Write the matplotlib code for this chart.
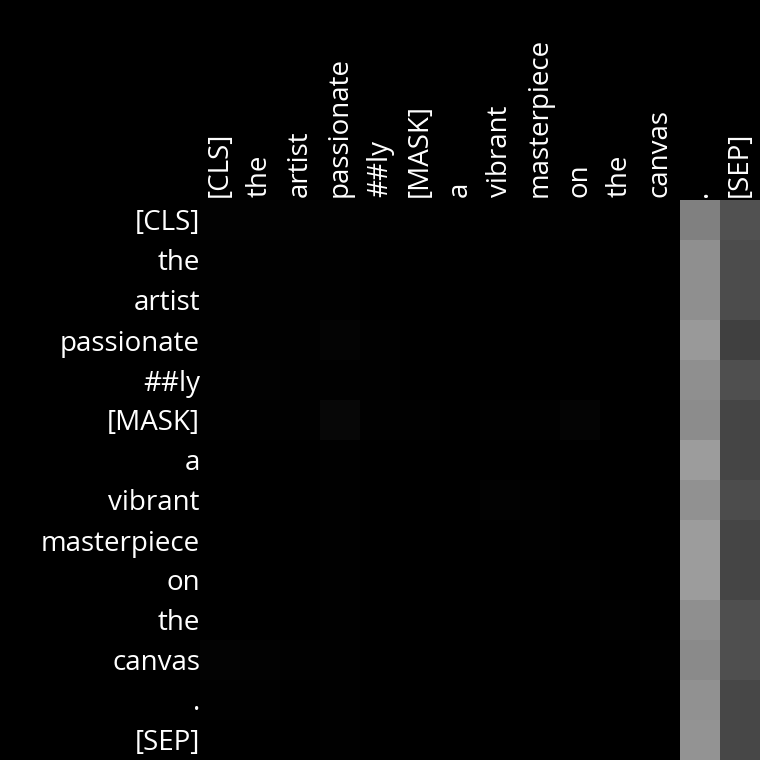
import numpy as np
import matplotlib.pyplot as plt

tokens = ["[CLS]", "the", "artist", "passionate", "##ly", "[MASK]", "a",
          "vibrant", "masterpiece", "on", "the", "canvas", ".", "[SEP]"]

# attention weights, rows = query token, cols = key token
attn = np.array([
    [0.010, 0.008, 0.008, 0.010, 0.004, 0.004, 0.003, 0.003, 0.004, 0.004, 0.003, 0.003, 0.50, 0.32],
    [0.004, 0.006, 0.004, 0.005, 0.003, 0.003, 0.002, 0.002, 0.003, 0.003, 0.003, 0.003, 0.56, 0.30],
    [0.004, 0.005, 0.005, 0.005, 0.003, 0.003, 0.002, 0.002, 0.003, 0.003, 0.002, 0.003, 0.56, 0.30],
    [0.004, 0.004, 0.004, 0.016, 0.004, 0.003, 0.002, 0.002, 0.003, 0.003, 0.002, 0.003, 0.60, 0.25],
    [0.004, 0.009, 0.004, 0.006, 0.004, 0.003, 0.002, 0.002, 0.003, 0.003, 0.002, 0.003, 0.56, 0.31],
    [0.004, 0.004, 0.004, 0.028, 0.004, 0.004, 0.003, 0.004, 0.004, 0.018, 0.003, 0.003, 0.55, 0.27],
    [0.003, 0.003, 0.003, 0.004, 0.003, 0.003, 0.003, 0.003, 0.003, 0.003, 0.002, 0.002, 0.61, 0.27],
    [0.003, 0.003, 0.003, 0.004, 0.003, 0.003, 0.003, 0.011, 0.004, 0.003, 0.002, 0.002, 0.57, 0.30],
    [0.003, 0.003, 0.003, 0.004, 0.003, 0.003, 0.003, 0.003, 0.004, 0.003, 0.002, 0.002, 0.61, 0.27],
    [0.003, 0.003, 0.003, 0.004, 0.003, 0.003, 0.003, 0.003, 0.003, 0.004, 0.003, 0.002, 0.61, 0.27],
    [0.003, 0.003, 0.003, 0.004, 0.003, 0.003, 0.002, 0.002, 0.003, 0.003, 0.004, 0.002, 0.56, 0.31],
    [0.012, 0.008, 0.005, 0.006, 0.003, 0.003, 0.002, 0.002, 0.003, 0.003, 0.003, 0.004, 0.54, 0.31],
    [0.004, 0.004, 0.003, 0.006, 0.003, 0.003, 0.002, 0.002, 0.003, 0.003, 0.002, 0.003, 0.57, 0.28],
    [0.003, 0.003, 0.003, 0.004, 0.003, 0.003, 0.002, 0.002, 0.003, 0.003, 0.002, 0.003, 0.58, 0.28],
])

fig = plt.figure(figsize=(7.6, 7.6), dpi=100, facecolor="black")
ax = fig.add_axes([200/760, 0, 560/760, 560/760])
ax.imshow(attn, cmap="gray", vmin=0, vmax=1, aspect="auto", interpolation="nearest")

ax.set_xticks(range(len(tokens)))
ax.set_yticks(range(len(tokens)))
ax.set_xticklabels(tokens, rotation=90, fontsize=20, color="white", family="Open Sans")
ax.set_yticklabels(tokens, fontsize=20, color="white", family="Open Sans")
ax.xaxis.tick_top()
ax.tick_params(axis="x", length=0, pad=2)
ax.tick_params(axis="y", length=0, pad=0)
for s in ax.spines.values():
    s.set_visible(False)

fig.savefig("out.png", dpi=100, facecolor="black")
